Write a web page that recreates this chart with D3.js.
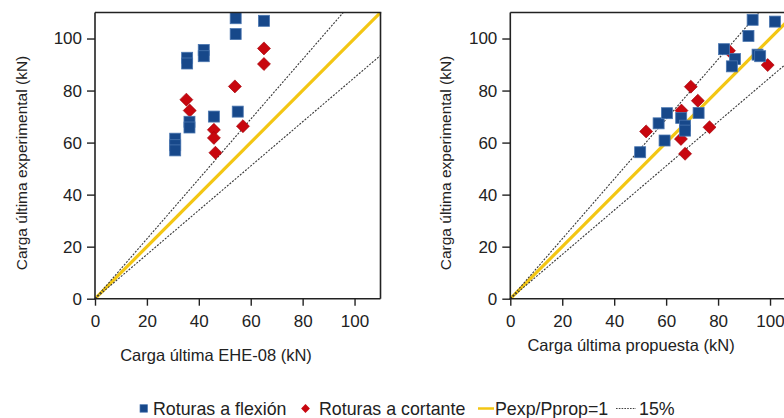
<!DOCTYPE html>
<html>
<head>
<meta charset="utf-8">
<script src="https://cdn.jsdelivr.net/npm/d3@7"></script>
<style>
  html, body { margin: 0; padding: 0; background: #fff; }
  svg { display: block; font-family: "Liberation Sans", Arial, sans-serif; }
</style>
</head>
<body>
<svg id="chart" width="784" height="418"></svg>
<script>
// Ultimate load: experimental vs. predicted (kN)
const axisTicks = [0, 20, 40, 60, 80, 100];

// Left panel: EHE-08 prediction
const ehe08Flexion = [
  [54.2, 107.8], [54.2, 101.7], [65.1, 106.8],
  [35.5, 92.6], [35.5, 90.4], [41.9, 95.6], [41.9, 93.2],
  [45.8, 70.0], [55.0, 71.9],
  [36.4, 68.0], [36.4, 65.8],
  [30.9, 61.5], [30.9, 59.0], [30.9, 57.0]
];
const ehe08Cortante = [
  [35.2, 76.5], [36.5, 72.3], [45.8, 64.9], [45.8, 61.8], [46.4, 56.1],
  [53.9, 81.6], [57.0, 66.3], [65.1, 96.2], [65.1, 90.2]
];

// Right panel: proposed model
const propFlexion = [
  [50.0, 56.3], [57.1, 67.4], [60.3, 71.3], [59.4, 60.8], [65.8, 69.5],
  [67.3, 66.5], [67.3, 64.6], [72.5, 71.4], [82.3, 95.9], [86.5, 92.1],
  [85.3, 89.3], [91.7, 101.0], [93.3, 107.2], [95.2, 93.8], [96.2, 93.2],
  [101.9, 106.5]
];
const propCortante = [
  [52.3, 64.3], [65.9, 72.3], [65.7, 61.4], [69.5, 81.5], [72.2, 76.1],
  [76.7, 65.9], [67.3, 55.7], [84.2, 95.3], [99.1, 89.8]
];

const ratioLines = [
  { name: "Pexp/Pprop=1", k: 1.0 },
  { name: "+15%", k: 1.15 },
  { name: "-15%", k: 0.85 }
];
const domainMax = 110;

const legendItems = ["Roturas a flexión", "Roturas a cortante", "Pexp/Pprop=1", "15%"];

const BLUE = "#17488a", BLUE_EDGE = "#4a76b0";
const RED = "#c8070f", RED_EDGE = "#a00008";
const GOLD = "#f3c613";
const INK = "#222";

const svg = d3.select("#chart");

function panel(opts) {
  const x = d3.scaleLinear().domain([0, domainMax]).range([opts.x0, opts.x1]);
  const y = d3.scaleLinear().domain([0, domainMax]).range([298.7, 12.5]);
  const g = svg.append("g");

  const clipId = "clip" + opts.id;
  svg.append("clipPath").attr("id", clipId)
    .append("rect").attr("x", opts.x0).attr("y", y(domainMax))
    .attr("width", opts.x1 - opts.x0).attr("height", y(0) - y(domainMax));

  const plot = g.append("g").attr("clip-path", `url(#${clipId})`);

  // reference lines through the origin
  ratioLines.forEach(l => {
    const pts = [[0, 0], [domainMax, domainMax * l.k]];
    const line = d3.line().x(d => x(d[0])).y(d => y(d[1]));
    const p = plot.append("path").attr("d", line(pts)).attr("fill", "none");
    if (l.k === 1) {
      p.attr("stroke", GOLD).attr("stroke-width", 3.2);
    } else {
      p.attr("stroke", "#383838").attr("stroke-width", 1.1).attr("stroke-dasharray", "2,1.4");
    }
  });

  // shear failures (diamonds)
  plot.selectAll(".dia").data(opts.cortante).join("rect")
    .attr("x", -4.6).attr("y", -4.6).attr("width", 9.2).attr("height", 9.2)
    .attr("transform", d => `translate(${x(d[0])},${y(d[1])}) rotate(45)`)
    .attr("fill", RED).attr("stroke", RED_EDGE).attr("stroke-width", 0.6);

  // flexural failures (squares)
  plot.selectAll(".sq").data(opts.flexion).join("rect")
    .attr("x", d => x(d[0]) - 5.5).attr("y", d => y(d[1]) - 5.5)
    .attr("width", 11).attr("height", 11)
    .attr("fill", BLUE).attr("stroke", BLUE_EDGE).attr("stroke-width", 0.8);

  // axes
  const xAxis = d3.axisBottom(x).tickValues(axisTicks).tickSize(7).tickPadding(9.5).tickSizeOuter(0);
  const yAxis = d3.axisLeft(y).tickValues(axisTicks).tickSize(8).tickPadding(5).tickSizeOuter(0);

  const gx = g.append("g").attr("transform", `translate(0,${y(0)})`).call(xAxis);
  const gy = g.append("g").attr("transform", `translate(${x(0)},0)`).call(yAxis);
  [gx, gy].forEach(a => {
    a.select(".domain").attr("stroke", INK).attr("stroke-width", 1.6);
    a.selectAll(".tick line").attr("stroke", INK).attr("stroke-width", 1.4);
    a.selectAll(".tick text").attr("fill", INK).style("font-size", "17px")
      .style("font-family", "'Liberation Sans', Arial, sans-serif");
  });
  gx.selectAll(".domain").attr("d", `M${opts.x0 - 0.8},0H${opts.x1}`);
  gy.selectAll(".domain").attr("d", `M0,${y(0)}V${y(domainMax)}`);

  // frame: top and right edges
  g.append("line").attr("x1", opts.x0).attr("x2", opts.x1 + 0.8)
    .attr("y1", y(domainMax)).attr("y2", y(domainMax))
    .attr("stroke", INK).attr("stroke-width", 1.6);
  g.append("line").attr("x1", opts.x1).attr("x2", opts.x1)
    .attr("y1", y(domainMax)).attr("y2", y(0))
    .attr("stroke", INK).attr("stroke-width", 1.6);

  // titles
  g.append("text").attr("x", opts.xTitleX).attr("y", opts.xTitleY)
    .attr("text-anchor", "middle").attr("fill", INK).style("font-size", "16.5px")
    .text(opts.xTitle);
  g.append("text")
    .attr("transform", `translate(${opts.yTitleX},163) rotate(-90)`)
    .attr("text-anchor", "middle").attr("fill", INK).style("font-size", "15.5px")
    .text("Carga última experimental (kN)");
}

panel({ id: "L", x0: 95, x1: 380.5, flexion: ehe08Flexion, cortante: ehe08Cortante,
        xTitle: "Carga última EHE-08 (kN)", xTitleX: 216, xTitleY: 361, yTitleX: 26.6 });
panel({ id: "R", x0: 510.3, x1: 796, flexion: propFlexion, cortante: propCortante,
        xTitle: "Carga última propuesta (kN)", xTitleX: 631, xTitleY: 351, yTitleX: 450.6 });

// legend
const lg = svg.append("g").style("font-size", "17.8px").attr("fill", INK);
const ly = 408.5;
lg.append("rect").attr("x", 140).attr("y", ly - 3.8).attr("width", 7.5).attr("height", 7.5)
  .attr("fill", BLUE).attr("stroke", BLUE_EDGE).attr("stroke-width", 0.7);
lg.append("text").attr("x", 153).attr("y", ly + 6.4).text(legendItems[0]);
lg.append("rect").attr("x", -3.1).attr("y", -3.1).attr("width", 6.2).attr("height", 6.2)
  .attr("transform", `translate(305.5,${ly}) rotate(45)`).attr("fill", RED);
lg.append("text").attr("x", 319).attr("y", ly + 6.4).text(legendItems[1]);
lg.append("line").attr("x1", 478).attr("x2", 494).attr("y1", ly).attr("y2", ly)
  .attr("stroke", GOLD).attr("stroke-width", 2.5);
lg.append("text").attr("x", 495).attr("y", ly + 6.4).text(legendItems[2]);
lg.append("line").attr("x1", 616).attr("x2", 636).attr("y1", ly).attr("y2", ly)
  .attr("stroke", "#444").attr("stroke-width", 1.1).attr("stroke-dasharray", "1.6,1.2");
lg.append("text").attr("x", 639).attr("y", ly + 6.4).text(legendItems[3]);
</script>
</body>
</html>
